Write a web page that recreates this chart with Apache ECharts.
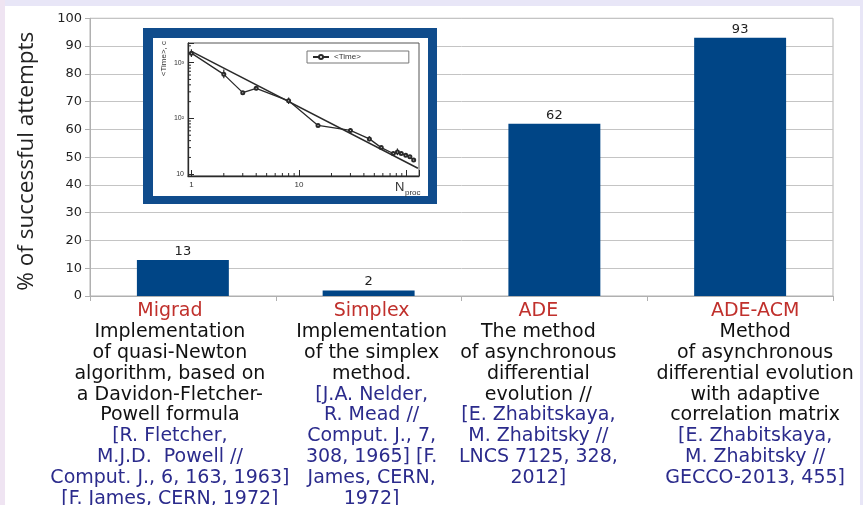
<!DOCTYPE html>
<html><head><meta charset="utf-8">
<script src="https://cdn.jsdelivr.net/npm/echarts@6/dist/echarts.min.js"></script>
<style>html,body{margin:0;padding:0;background:#fff}#c{width:863px;height:505px}</style>
</head><body><div id="c"></div>
<script>
// ---------- data ----------
const categories = ['Migrad', 'Simplex', 'ADE', 'ADE-ACM'];
const successRates = [13, 2, 62, 93];
const descriptions = [
  ['Implementation', 'of quasi-Newton', 'algorithm, based on', 'a Davidon-Fletcher-', 'Powell formula'],
  ['Implementation', 'of the simplex', 'method.'],
  ['The method', 'of asynchronous', 'differential', 'evolution //'],
  ['Method', 'of asynchronous', 'differential evolution', 'with adaptive', 'correlation matrix']
];
const references = [
  ['[R. Fletcher,', 'M.J.D.  Powell //', 'Comput. J., 6, 163, 1963]', '[F. James, CERN, 1972]'],
  ['[J.A. Nelder,', 'R. Mead //', 'Comput. J., 7,', '308, 1965] [F.', 'James, CERN,', '1972]'],
  ['[E. Zhabitskaya,', 'M. Zhabitsky //', 'LNCS 7125, 328,', '2012]'],
  ['[E. Zhabitskaya,', 'M. Zhabitsky //', 'GECCO-2013, 455]']
];
// inset: <Time> vs N_proc (log-log)
const nProc    = [1,    2,   3,   4,   8,   15, 30, 45, 58, 75,   82, 89,   98, 107,  116];
const meanTime = [1480, 617, 290, 347, 207, 75, 61, 43, 30, 23.5, 25, 23.5, 22, 20.5, 18];
const timeLow  = [1260, 525, 280, 320, 181, 72, 53, 39, 28, 22,   22, 22,   20.5, 19, 16.8];
const timeHigh = [1740, 750, 300, 375, 238, 78, 67, 48, 32, 25,   29, 25,   23.5, 22, 19.3];
const fitN = [1, 127];
const fitTime = [1590, 12.8];
const insetXMinorTicks = [2, 3, 4, 5, 6, 7, 8, 9, 20, 30, 40, 50, 60, 70, 80, 90];
const insetYMinorTicks = [20, 30, 40, 50, 60, 70, 80, 90, 200, 300, 400, 500, 600, 700, 800, 900, 2000];
const insetXLabels = {1: '1', 10: '10'};
const insetYLabels = {10: '10', 100: '10\u00b2', 1000: '10\u00b3'};

// ---------- layout / style ----------
const LABEL_SHIFT = [-13, 3, -16, 15];
const FONT = 'DejaVu Sans';
const rich = {};
LABEL_SHIFT.forEach((s, i) => {
  const pad = s < 0 ? [0, -2 * s, 0, 0] : [0, 0, 0, 2 * s];
  const base = {fontFamily: FONT, fontSize: 19, lineHeight: 20.8, padding: pad};
  rich['n' + i] = Object.assign({}, base, {color: '#c0302c'});
  rich['d' + i] = Object.assign({}, base, {color: '#111111'});
  rich['r' + i] = Object.assign({}, base, {color: '#2b2b8c'});
});

function catLabel(value) {
  const i = categories.indexOf(value);
  const lines = ['{n' + i + '|' + value + '}']
    .concat(descriptions[i].map(t => '{d' + i + '|' + t + '}'))
    .concat(references[i].map(t => '{r' + i + '|' + t + '}'));
  return lines.join('\n');
}
function matchLabel(map, v) {
  for (const k in map) { if (Math.abs(v - Number(k)) < 1e-6 * Number(k)) return map[k]; }
  return '';
}

const chart = echarts.init(document.getElementById('c'), null, {renderer: 'canvas'});
const gridColor = '#c4c4c4';
const axisColor = '#b0b0b0';
const insetInk = '#2a2a2a';

chart.setOption({
  backgroundColor: '#ffffff',
  animation: false,
  legend: {
    data: ['<Time>'], left: 307, top: 51, padding: [2, 48, 2, 5],
    itemWidth: 16, itemHeight: 5, itemGap: 4,
    borderColor: '#777', borderWidth: 1, backgroundColor: '#fff',
    textStyle: {fontSize: 8, color: '#333', fontFamily: 'Liberation Sans'}, z: 6
  },
  grid: [
    {left: 90, top: 18.3, right: 30, bottom: 209, show: true, borderColor: axisColor, borderWidth: 1,
     outerBoundsMode: 'none', containLabel: false},
    {left: 188, top: 43, width: 231, height: 133, show: true, borderColor: '#555', borderWidth: 1,
     backgroundColor: '#fff', z: 3, outerBoundsMode: 'none', containLabel: false}
  ],
  xAxis: [
    {
      gridIndex: 0, type: 'category', data: categories,
      axisLine: {lineStyle: {color: axisColor}},
      axisTick: {show: true, length: 5, lineStyle: {color: axisColor}},
      axisLabel: {interval: 0, margin: 5, formatter: catLabel, rich: rich}
    },
    {
      gridIndex: 1, type: 'log', logBase: 10, min: 0.93, max: 130, z: 3,
      axisLine: {show: true, lineStyle: {color: insetInk, width: 1.3}},
      axisTick: {show: true, inside: true, length: 6, lineStyle: {color: insetInk}},
      axisLabel: {fontSize: 8, color: '#333', margin: 5, fontFamily: 'Liberation Sans',
                  formatter: v => matchLabel(insetXLabels, v)},
      splitLine: {show: false}
    }
  ],
  yAxis: [
    {
      gridIndex: 0, type: 'value', min: 0, max: 100, interval: 10,
      name: '% of successful attempts', nameLocation: 'middle', nameGap: 52,
      nameTextStyle: {fontFamily: 'Open Sans', fontSize: 22.5, color: '#222', padding: [0, 8, 0, 0]},
      axisLine: {show: true, lineStyle: {color: axisColor}},
      axisTick: {show: true, length: 5, lineStyle: {color: axisColor}},
      axisLabel: {fontFamily: FONT, fontSize: 13, color: '#222', margin: 8},
      splitLine: {show: true, lineStyle: {color: gridColor}}
    },
    {
      gridIndex: 1, type: 'log', logBase: 10, min: 9.3, max: 2250, z: 3,
      axisLine: {show: true, lineStyle: {color: insetInk, width: 1.3}},
      axisTick: {show: true, inside: true, length: 6, lineStyle: {color: insetInk}},
      axisLabel: {fontSize: 7, color: '#333', margin: 4, fontFamily: 'Liberation Sans',
                  formatter: v => matchLabel(insetYLabels, v)},
      splitLine: {show: false}
    }
  ],
  graphic: [
    {type: 'rect', shape: {x: 0, y: 0, width: 863, height: 6}, style: {fill: '#e8e6f7'}, z: 0},
    {type: 'rect', shape: {x: 0, y: 0, width: 5, height: 505}, style: {fill: '#efe4f2'}, z: 0},
    {type: 'rect', shape: {x: 860, y: 0, width: 3, height: 505}, style: {fill: '#e8e6f7'}, z: 0},
    {type: 'rect', shape: {x: 143, y: 28, width: 294, height: 176}, style: {fill: '#104c8c'}, z: 1},
    {type: 'rect', shape: {x: 153, y: 38, width: 275, height: 158}, style: {fill: '#ffffff'}, z: 1},
    {type: 'text', x: 164, y: 41, rotation: Math.PI / 2, z: 6,
     style: {text: '<Time>, c', fontSize: 8, fill: '#333', fontFamily: 'Liberation Sans', align: 'right', verticalAlign: 'middle'}},
    {type: 'text', x: 395, y: 181, z: 6,
     style: {text: 'N', fontSize: 13, fill: '#333', fontFamily: 'Liberation Sans', align: 'left', verticalAlign: 'top'}},
    {type: 'text', x: 405, y: 189, z: 6,
     style: {text: 'proc', fontSize: 8, fill: '#333', fontFamily: 'Liberation Sans', align: 'left', verticalAlign: 'top'}}
  ],
  series: [
    {
      type: 'bar', name: 'success', xAxisIndex: 0, yAxisIndex: 0, data: successRates,
      barWidth: '49.5%', itemStyle: {color: '#004586'},
      label: {show: true, position: 'top', distance: 2, fontFamily: FONT, fontSize: 13, color: '#222'}
    },
    {
      type: 'custom', name: 'xminor', xAxisIndex: 1, yAxisIndex: 1, z: 4, silent: true,
      data: insetXMinorTicks.map(v => [v, 100]),
      renderItem: (params, api) => {
        const cs = params.coordSys;
        const x = api.coord([api.value(0), api.value(1)])[0];
        const b = cs.y + cs.height;
        return {type: 'line', shape: {x1: x, y1: b, x2: x, y2: b - 3}, style: {stroke: insetInk, lineWidth: 1}};
      }
    },
    {
      type: 'custom', name: 'yminor', xAxisIndex: 1, yAxisIndex: 1, z: 4, silent: true,
      data: insetYMinorTicks.map(v => [1, v]),
      renderItem: (params, api) => {
        const cs = params.coordSys;
        const y = api.coord([api.value(0), api.value(1)])[1];
        return {type: 'line', shape: {x1: cs.x, y1: y, x2: cs.x + 3, y2: y}, style: {stroke: insetInk, lineWidth: 1}};
      }
    },
    {
      type: 'custom', name: 'errors', xAxisIndex: 1, yAxisIndex: 1, z: 5, silent: true,
      data: nProc.map((n, i) => [n, timeLow[i], timeHigh[i]]),
      encode: {x: 0, y: [1, 2]},
      renderItem: (params, api) => {
        const lo = api.coord([api.value(0), api.value(1)]);
        const hi = api.coord([api.value(0), api.value(2)]);
        return {type: 'line', shape: {x1: lo[0], y1: lo[1], x2: hi[0], y2: hi[1]}, style: {stroke: insetInk, lineWidth: 1.2}};
      }
    },
    {
      type: 'line', name: 'fit', xAxisIndex: 1, yAxisIndex: 1, z: 5,
      data: fitN.map((n, i) => [n, fitTime[i]]), symbol: 'none',
      lineStyle: {color: insetInk, width: 1.5}
    },
    {
      type: 'line', name: '<Time>', xAxisIndex: 1, yAxisIndex: 1, z: 6,
      data: nProc.map((n, i) => [n, meanTime[i]]),
      symbol: 'emptyCircle', symbolSize: 3,
      lineStyle: {color: insetInk, width: 1.3}, itemStyle: {color: insetInk}
    }
  ]
});
</script></body></html>
